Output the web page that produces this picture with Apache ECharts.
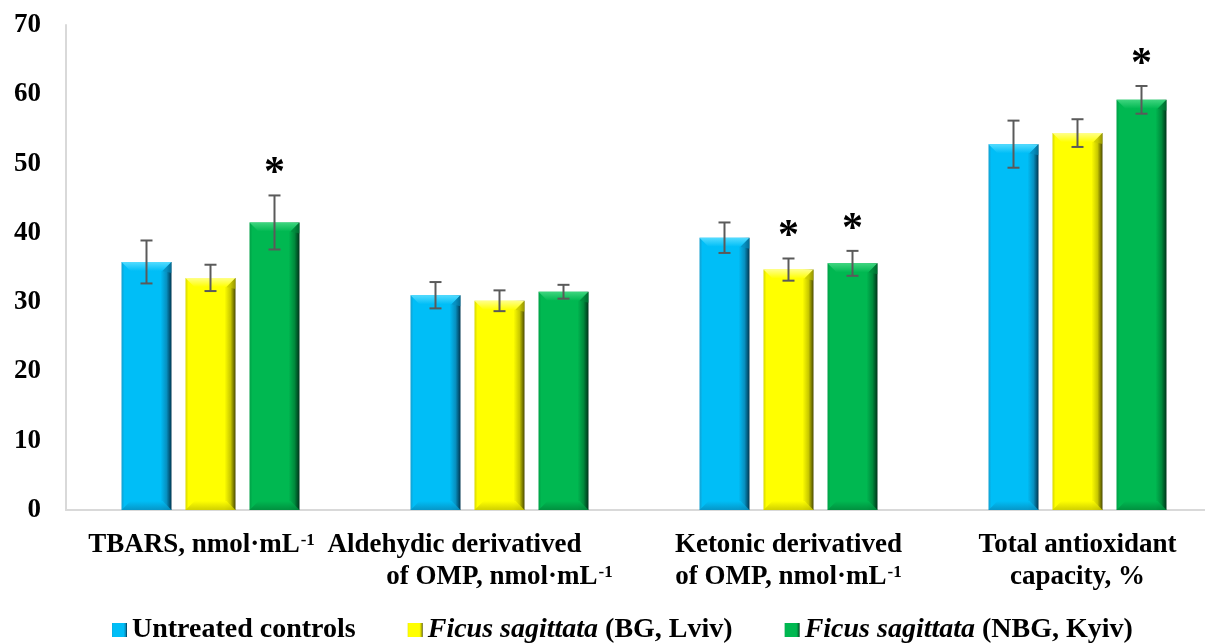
<!DOCTYPE html>
<html>
<head>
<meta charset="utf-8">
<script src="https://cdn.jsdelivr.net/npm/echarts@6/dist/echarts.min.js"></script>
<style>html,body{margin:0;padding:0;background:#fff}#c{width:1205px;height:644px}</style>
</head>
<body>
<div id="c"></div>
<script>
// ---- data ----
const categories = ['TBARS, nmol·mL-1', 'Aldehydic derivatived\nof OMP, nmol·mL-1', 'Ketonic derivatived\nof OMP, nmol·mL-1', 'Total antioxidant\ncapacity, %'];
const seriesNames = ['Untreated controls', 'Ficus sagittata (BG, Lviv)', 'Ficus sagittata (NBG, Kyiv)'];
const controlMeans = [35.8, 31.0, 39.3, 52.8];
const controlErrors = [3.1, 1.9, 2.2, 3.4];
const controlSig = [0, 0, 0, 0];
const bgMeans = [33.5, 30.2, 34.7, 54.4];
const bgErrors = [1.9, 1.5, 1.6, 2.0];
const bgSig = [0, 0, 1, 0];
const nbgMeans = [41.5, 31.5, 35.6, 59.2];
const nbgErrors = [3.9, 1.0, 1.8, 2.0];
const nbgSig = [1, 0, 1, 1];
const yMin = 0, yMax = 70, yInterval = 10;

// ---- style ----
const FONT = '"Liberation Serif", "Times New Roman", serif';
const BAR_W = 50, BAR_GAP = 14, BEVEL = 9;
const palettes = [
  { base: '#00BEF7', edge: '#139fd0', dark: '#003650', light: '#55dcff', shade: '#0790c0' },
  { base: '#FFFF00', edge: '#d8d800', dark: '#4a4a00', light: '#ffff8a', shade: '#c8c800' },
  { base: '#00B851', edge: '#00a046', dark: '#00331a', light: '#3fd57f', shade: '#008a3c' }
];
const meansAll = [controlMeans, bgMeans, nbgMeans];
const errorsAll = [controlErrors, bgErrors, nbgErrors];
const sigAll = [controlSig, bgSig, nbgSig];

function barGradient(p) {
  return new echarts.graphic.LinearGradient(0, 0, 1, 0, [
    { offset: 0, color: p.edge },
    { offset: 0.06, color: p.base },
    { offset: 0.78, color: p.base },
    { offset: 0.9, color: p.shade },
    { offset: 1, color: p.dark }
  ]);
}

const series = [];
meansAll.forEach((means, s) => {
  series.push({
    name: seriesNames[s],
    type: 'bar',
    barWidth: BAR_W,
    barGap: (BAR_GAP / BAR_W * 100) + '%',
    data: means,
    itemStyle: { color: barGradient(palettes[s]) },
    z: 2
  });
});
meansAll.forEach((means, s) => {
  const p = palettes[s];
  series.push({
    type: 'custom',
    z: 5,
    silent: true,
    encode: { x: 0, y: 1 },
    data: means.map((m, i) => [i, m, errorsAll[s][i], sigAll[s][i]]),
    renderItem: function (params, api) {
      const ci = api.value(0), m = api.value(1), e = api.value(2), sig = api.value(3);
      const c = api.coord([ci, m]);
      const off = (s - 1) * (BAR_W + BAR_GAP);
      const xc = c[0] + off;
      const x0 = xc - BAR_W / 2, x1 = xc + BAR_W / 2;
      const top = c[1];
      const base = api.coord([ci, 0])[1];
      const yHi = api.coord([ci, m + e])[1];
      const yLo = api.coord([ci, m - e])[1];
      const children = [
        { type: 'polygon', shape: { points: [[x0, top], [x1, top], [x1 - BEVEL, top + BEVEL], [x0 + BEVEL, top + BEVEL]] },
          style: { fill: new echarts.graphic.LinearGradient(0, 0, 0, 1, [{ offset: 0, color: p.light }, { offset: 1, color: p.base }]) } },
        { type: 'polygon', shape: { points: [[x1, top], [x1, top + BEVEL + 2], [x1 - BEVEL, top + BEVEL]] },
          style: { fill: p.shade, opacity: 0.6 } },
        { type: 'polygon', shape: { points: [[x0, base], [x1, base], [x1 - BEVEL, base - BEVEL], [x0 + BEVEL, base - BEVEL]] },
          style: { fill: new echarts.graphic.LinearGradient(0, 0, 0, 1, [{ offset: 0, color: p.base }, { offset: 1, color: p.shade }]), opacity: 0.85 } },
        { type: 'line', shape: { x1: xc, y1: yHi, x2: xc, y2: yLo }, style: { stroke: '#5a5a5a', lineWidth: 2 } },
        { type: 'line', shape: { x1: xc - 6, y1: yHi, x2: xc + 6, y2: yHi }, style: { stroke: '#5a5a5a', lineWidth: 2 } },
        { type: 'line', shape: { x1: xc - 6, y1: yLo, x2: xc + 6, y2: yLo }, style: { stroke: '#5a5a5a', lineWidth: 2 } }
      ];
      if (sig) {
        children.push({ type: 'text', style: { text: '*', x: xc, y: yHi - 21, align: 'center', verticalAlign: 'middle',
          font: 'bold 42px ' + FONT, fill: '#000' } });
      }
      return { type: 'group', children: children };
    }
  });
});

function catFormatter(value, idx) {
  const lines = value.split('\n');
  return lines.map((ln, li) => {
    let style = 't';
    if (idx === 1 && li === 0) style = 'ta';
    const parts = ln.split('mL-1');
    if (parts.length > 1) {
      return '{' + style + '|' + parts[0] + 'mL}{sup|-1}' + (idx === 0 ? '{padb|}' : '');
    }
    return '{' + style + '|' + ln + '}';
  }).join('\n');
}

const txt = { fontFamily: FONT, fontWeight: 'bold', fontSize: 27, color: '#000', lineHeight: 32 };

const option = {
  backgroundColor: '#fff',
  animation: false,
  grid: { left: 66, top: 25, width: 1156, height: 485, outerBoundsMode: 'none', containLabel: false },
  legend: {
    data: seriesNames,
    left: 112, top: 616,
    padding: 0,
    icon: 'rect',
    itemWidth: 15, itemHeight: 14, itemGap: 52,
    formatter: function (name) {
      if (name.indexOf('Ficus sagittata') === 0) {
        return '{i|Ficus sagittata}{n|' + name.slice('Ficus sagittata'.length) + '}';
      }
      return '{n|' + name + '}';
    },
    textStyle: {
      fontFamily: FONT, fontWeight: 'bold', fontSize: 28, color: '#000',
      rich: {
        i: { fontFamily: FONT, fontWeight: 'bold', fontStyle: 'italic', fontSize: 28, color: '#000' },
        n: { fontFamily: FONT, fontWeight: 'bold', fontSize: 28, color: '#000' }
      }
    }
  },
  xAxis: {
    type: 'category',
    data: categories,
    axisLine: { lineStyle: { color: '#d9d9d9', width: 2 } },
    axisTick: { show: false },
    axisLabel: {
      interval: 0, margin: 19, formatter: catFormatter,
      rich: {
        t: txt,
        ta: Object.assign({}, txt, { padding: [0, 90, 0, 0] }),
        padb: { width: 18, fontSize: 27, lineHeight: 32 },
        sup: { fontFamily: FONT, fontWeight: 'bold', fontSize: 17, color: '#000', lineHeight: 17, verticalAlign: 'top', padding: [3, 0, 0, 1] }
      }
    }
  },
  yAxis: {
    type: 'value', min: yMin, max: yMax, interval: yInterval,
    axisLine: { show: true, lineStyle: { color: '#d9d9d9', width: 2 } },
    axisTick: { show: false },
    splitLine: { show: false },
    axisLabel: { margin: 25, fontFamily: FONT, fontWeight: 'bold', fontSize: 27, color: '#000' }
  },
  series: series
};

const chart = echarts.init(document.getElementById('c'), null, { renderer: 'canvas' });
chart.setOption(option);
</script>
</body>
</html>
